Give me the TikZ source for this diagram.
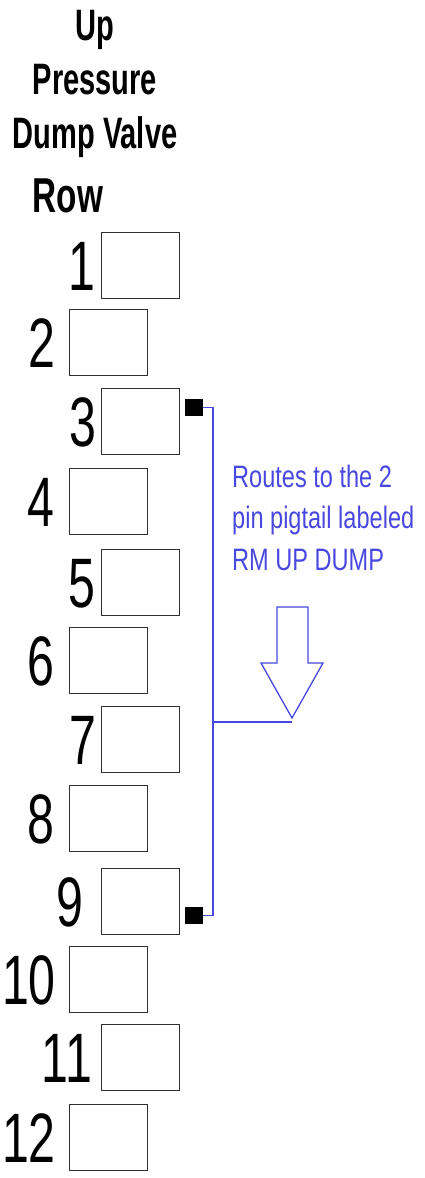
\documentclass[tikz,border=0pt]{standalone}
\usepackage{graphicx}
\usepackage{fontspec}
\setmainfont{Liberation Sans}
\definecolor{wireblue}{RGB}{72,72,224}
\definecolor{boxgray}{RGB}{48,48,48}
\begin{document}
\begin{tikzpicture}[x=1pt,y=-1pt,
  slot/.style={draw=boxgray, line width=1.4pt, minimum width=78pt, minimum height=66pt, inner sep=0pt, anchor=north west},
  rownum/.style={anchor=base, inner sep=0pt, font=\fontsize{70}{80}\selectfont},
  pin/.style={fill=black, draw=black, minimum width=17pt, minimum height=16pt, inner sep=0pt},
  wire/.style={draw=wireblue, line width=1.6pt},
  header/.style={inner sep=0pt, font=\bfseries}]
\useasboundingbox (0,0) rectangle (425,1178);
% header
\node[header, anchor=north] (hdr) at (95,2) {\fontsize{44}{54}\selectfont\scalebox{0.66}[1]{\begin{tabular}{@{}c@{}}Up\\Pressure\\Dump Valve\end{tabular}}};
\node[header, anchor=base] (row) at (68,212) {\fontsize{49}{58}\selectfont\scalebox{0.68}[1]{Row}};
% boxes
\foreach \i/\x/\t in {1/101/232, 2/69/309, 3/101/388, 4/69/468, 5/101/549, 6/69/627, 7/101/706, 8/69/785, 9/101/868, 10/69/946, 11/101/1024, 12/69/1104}{
  \node[slot] (b\i) at (\x,\t) {};
}
% numbers
\foreach \i/\x/\t in {1/82/232, 2/41.5/309, 3/83/388, 4/40.5/468, 5/81.5/549, 6/40.5/627, 7/82.5/706, 8/41/785, 9/69.5/868, 10/29/946, 11/67/1024, 12/29/1104}{
  \node[rownum] (n\i) at (\x,\t+58.5) {\scalebox{0.69}[1]{\i}};
}
% pins
\node[pin] (p3) at (194,407.5) {};
\node[pin] (p9) at (194,915.5) {};
% wiring
\coordinate (j) at (213,722);
\coordinate (tip) at (292,722);
\draw[wire] (p3.east) -| (j) |- (p9.east);
\draw[wire] (j) -- (tip);
% arrow
\draw[draw=wireblue, line width=1.3pt, fill=white, line join=miter]
  (277,607) -- (308,607) -- (308,663) -- (323,663) -- (292,718) -- (261,663) -- (277,663) -- cycle;
% note
\node[anchor=north west, inner sep=0pt, text=wireblue] (note) at (232,458)
  {\fontsize{31}{41.5}\selectfont\scalebox{0.76}[1]{\begin{tabular}{@{}l@{}}Routes to the 2\\pin pigtail labeled\\RM UP DUMP\end{tabular}}};
\end{tikzpicture}
\end{document}
